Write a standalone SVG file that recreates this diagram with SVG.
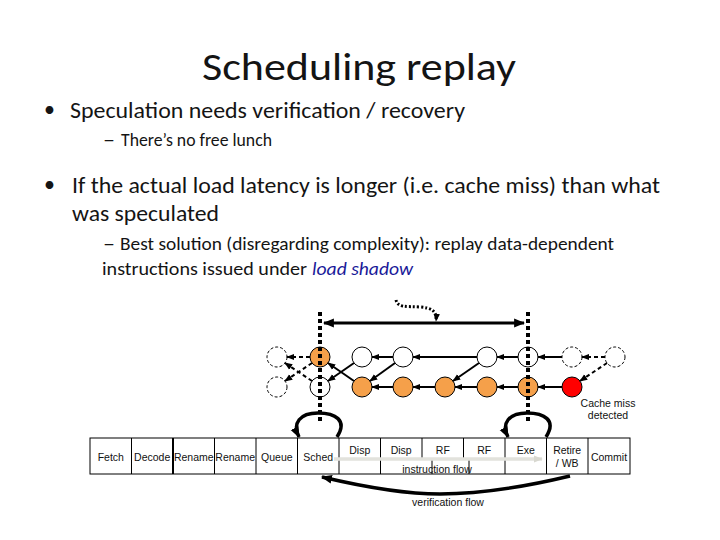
<svg xmlns="http://www.w3.org/2000/svg" width="720" height="540" viewBox="0 0 720 540">
<style>
.t{font-family:Carlito,"Liberation Sans",Arial,sans-serif;fill:#141414}
.lbl{font-family:"Liberation Sans",Arial,sans-serif;font-size:10.5px;fill:#111;text-anchor:middle}
.cell{fill:#fff;stroke:#000;stroke-width:1}
.n{stroke:#000;stroke-width:1}
.w{fill:#fff}
.o{fill:#f5a04a}
.r{fill:#ff0000}
.d{fill:#fff;stroke-dasharray:3 2}
.a{stroke:#000;stroke-width:2;fill:none;marker-end:url(#ah)}
.ad{stroke:#000;stroke-width:2;fill:none;stroke-dasharray:4 3;marker-end:url(#ah)}
.dot{stroke:#000;stroke-width:4;stroke-dasharray:4 3;fill:none}
.thick{stroke:#000;stroke-width:3.5;fill:none}
</style>
<defs>
<marker id="ah" viewBox="0 0 10 10" refX="9" refY="5" markerWidth="8" markerHeight="8" markerUnits="userSpaceOnUse" orient="auto-start-reverse"><path d="M0,1 L10,5 L0,9 z" fill="#000"/></marker>
<marker id="ahb" viewBox="0 0 10 10" refX="9" refY="5" markerWidth="11" markerHeight="11" markerUnits="userSpaceOnUse" orient="auto-start-reverse"><path d="M0,1 L10,5 L0,9 z" fill="#000"/></marker>
<marker id="ahg" viewBox="0 0 10 10" refX="9" refY="5" markerWidth="9" markerHeight="9" markerUnits="userSpaceOnUse" orient="auto"><path d="M0,1 L10,5 L0,9 z" fill="#d8d8d0"/></marker>
</defs>
<rect width="720" height="540" fill="#fff"/>

<g id="text">
<text class="t" x="202" y="80" font-size="39" textLength="314" lengthAdjust="spacingAndGlyphs">Scheduling replay</text>
<text class="t" x="44" y="117" font-size="22">•</text>
<text class="t" x="70" y="118" font-size="22" textLength="395" lengthAdjust="spacingAndGlyphs">Speculation needs verification / recovery</text>
<text class="t" x="103" y="146" font-size="18" textLength="12" lengthAdjust="spacingAndGlyphs">–</text>
<text class="t" x="121" y="146" font-size="18" textLength="151" lengthAdjust="spacingAndGlyphs">There’s no free lunch</text>
<text class="t" x="44" y="192" font-size="22">•</text>
<text class="t" x="72" y="193" font-size="22" textLength="588" lengthAdjust="spacingAndGlyphs">If the actual load latency is longer (i.e. cache miss) than what</text>
<text class="t" x="72" y="221" font-size="22" textLength="147" lengthAdjust="spacingAndGlyphs">was speculated</text>
<text class="t" x="103" y="250" font-size="18" textLength="12" lengthAdjust="spacingAndGlyphs">–</text>
<text class="t" x="120" y="250" font-size="18" textLength="494" lengthAdjust="spacingAndGlyphs">Best solution (disregarding complexity): replay data-dependent</text>
<text class="t" x="102" y="275" font-size="18" textLength="205" lengthAdjust="spacingAndGlyphs">instructions issued under</text>
<text class="t" x="312" y="275" font-size="18" font-style="italic" style="fill:#1a1a99" textLength="101" lengthAdjust="spacingAndGlyphs">load shadow</text>
</g>

<g id="pipeline">
<rect class="cell" x="90" y="438" width="540" height="36"/>
<g stroke="#000" stroke-width="1">
<line x1="131.5" y1="438" x2="131.5" y2="474"/>
<line x1="173" y1="438" x2="173" y2="474" stroke-width="2"/>
<line x1="214.5" y1="438" x2="214.5" y2="474"/>
<line x1="256" y1="438" x2="256" y2="474"/>
<line x1="297.5" y1="438" x2="297.5" y2="474"/>
<line x1="339" y1="438" x2="339" y2="474"/>
<line x1="380.5" y1="438" x2="380.5" y2="474"/>
<line x1="422" y1="438" x2="422" y2="459"/>
<line x1="463.5" y1="438" x2="463.5" y2="459"/>
<line x1="432" y1="460" x2="432" y2="474"/>
<line x1="469" y1="460" x2="469" y2="474"/>
<line x1="505" y1="438" x2="505" y2="474"/>
<line x1="546.5" y1="438" x2="546.5" y2="474"/>
<line x1="588" y1="438" x2="588" y2="474"/>
</g>
<line x1="334" y1="459" x2="542" y2="459" stroke="#e2e2dc" stroke-width="3.5" marker-end="url(#ahg)"/>
<text class="lbl" x="110.8" y="461">Fetch</text>
<text class="lbl" x="152.2" y="461">Decode</text>
<text class="lbl" x="193.8" y="461">Rename</text>
<text class="lbl" x="235.2" y="461">Rename</text>
<text class="lbl" x="276.8" y="461">Queue</text>
<text class="lbl" x="318.2" y="461">Sched</text>
<text class="lbl" x="359.8" y="454">Disp</text>
<text class="lbl" x="401.2" y="454">Disp</text>
<text class="lbl" x="442.8" y="454">RF</text>
<text class="lbl" x="484.2" y="454">RF</text>
<text class="lbl" x="525.8" y="454">Exe</text>
<text class="lbl" x="567.2" y="454">Retire</text>
<text class="lbl" x="567.2" y="467">/ WB</text>
<text class="lbl" x="609" y="461">Commit</text>
<text class="lbl" x="437" y="473">instruction flow</text>
<text class="lbl" x="448" y="506">verification flow</text>
<text class="lbl" x="608" y="407">Cache miss</text>
<text class="lbl" x="608" y="419">detected</text>
</g>

<g id="n-t1"><circle class="n d" cx="277" cy="357" r="10"/></g>
<g id="n-t2"><circle class="n o" cx="320" cy="357" r="10"/></g>
<g id="n-t3"><circle class="n w" cx="362" cy="357" r="10"/></g>
<g id="n-t4"><circle class="n w" cx="403" cy="357" r="10"/></g>
<g id="n-t5"><circle class="n w" cx="487" cy="357" r="10"/></g>
<g id="n-t6"><circle class="n w" cx="528" cy="357" r="10"/></g>
<g id="n-t7"><circle class="n d" cx="572" cy="357" r="10"/></g>
<g id="n-t8"><circle class="n d" cx="615" cy="357" r="10"/></g>
<g id="n-b1"><circle class="n d" cx="277" cy="387" r="10"/></g>
<g id="n-b2"><circle class="n w" cx="320" cy="387" r="10"/></g>
<g id="n-b3"><circle class="n o" cx="362" cy="387" r="10"/></g>
<g id="n-b4"><circle class="n o" cx="403" cy="387" r="10"/></g>
<g id="n-b5"><circle class="n o" cx="445" cy="387" r="10"/></g>
<g id="n-b6"><circle class="n o" cx="487" cy="387" r="10"/></g>
<g id="n-b7"><circle class="n o" cx="528" cy="387" r="10"/></g>
<g id="n-b8"><circle class="n r" cx="572" cy="387" r="10"/></g>

<g id="connectors">
<line class="a" x1="393" y1="357" x2="372" y2="357"/>
<line class="a" x1="477" y1="357" x2="413" y2="357"/>
<line class="a" x1="518" y1="357" x2="497" y2="357"/>
<line class="a" x1="562" y1="357" x2="538" y2="357"/>
<line class="ad" x1="605" y1="357" x2="582" y2="357"/>
<line class="ad" x1="310" y1="357" x2="287" y2="357"/>
<line class="a" x1="562" y1="387" x2="538" y2="387"/>
<line class="a" x1="518" y1="387" x2="497" y2="387"/>
<line class="a" x1="477" y1="387" x2="455" y2="387"/>
<line class="a" x1="435" y1="387" x2="413" y2="387"/>
<line class="a" x1="393" y1="387" x2="372" y2="387"/>
<line class="ad" x1="312" y1="363" x2="285" y2="381"/>
<line class="ad" x1="312" y1="381" x2="285" y2="363"/>
<line class="a" x1="354" y1="381" x2="328" y2="363"/>
<line class="a" x1="354" y1="363" x2="328" y2="381"/>
<line class="a" x1="395" y1="363" x2="370" y2="381"/>
<line class="a" x1="479" y1="363" x2="453" y2="381"/>
<line class="ad" x1="607" y1="363" x2="580" y2="381"/>
<line class="dot" x1="320" y1="312" x2="320" y2="424"/>
<line class="dot" x1="528" y1="312" x2="528" y2="424"/>
<line stroke="#000" stroke-width="3" x1="324" y1="323" x2="524" y2="323" marker-start="url(#ahb)" marker-end="url(#ahb)"/>
<path d="M396 300 C398 308 405 306 420 307 C432 308 437 311 436 321" stroke="#000" stroke-width="3" stroke-dasharray="2 2" fill="none" marker-end="url(#ah)"/>
<path class="thick" d="M337 437 C348 420 335 413 318 413 C300 413 292 423 299 437" marker-end="url(#ahb)"/>
<path class="thick" d="M546 437 C557 420 544 413 527 413 C509 413 501 423 508 437" marker-end="url(#ahb)"/>
<path class="thick" d="M570 476 C520 488 480 494 440 494 C400 494 360 486 322 477" marker-end="url(#ahb)"/>
</g>
</svg>
